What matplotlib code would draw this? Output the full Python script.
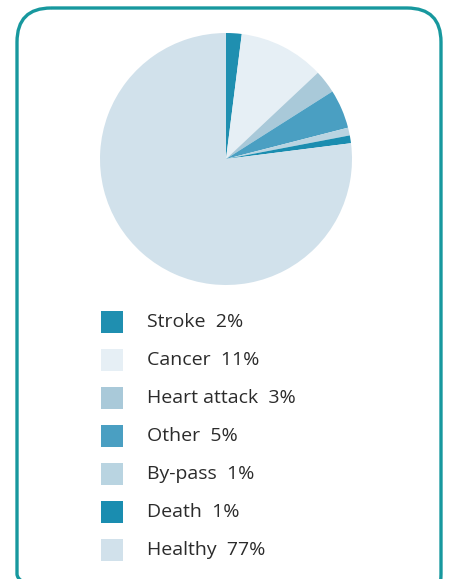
import matplotlib
matplotlib.use("Agg")
import matplotlib.pyplot as plt
from matplotlib.patches import FancyBboxPatch, Rectangle

categories = ["Stroke", "Cancer", "Heart attack", "Other", "By-pass", "Death", "Healthy"]
values = [2, 11, 3, 5, 1, 1, 77]
colors = ["#1f8fb0", "#e6eff5", "#a9c9d9", "#4a9fc2", "#b9d4e1", "#1a8db0", "#d1e1eb"]

W, H = 449, 579
fig = plt.figure(figsize=(W / 100, H / 100), dpi=100)

# background / frame axes in pixel coordinates
bg = fig.add_axes([0, 0, 1, 1])
bg.set_xlim(0, W)
bg.set_ylim(H, 0)
bg.axis("off")
frame = FancyBboxPatch((17, 8), 424, 600, boxstyle="round,pad=0,rounding_size=34",
                       fill=False, edgecolor="#17989e", linewidth=2.4)
bg.add_patch(frame)

# pie
cx, cy, r = 226, 159, 126
pax = fig.add_axes([(cx - r) / W, 1 - (cy + r) / H, 2 * r / W, 2 * r / H])
pax.pie(values, colors=colors, startangle=90, counterclock=False,
        wedgeprops=dict(linewidth=0))
pax.set_xlim(-1, 1)
pax.set_ylim(-1, 1)
pax.set_aspect("equal")
pax.axis("off")

# legend
y0, dy = 322, 38
for i, (name, v, c) in enumerate(zip(categories, values, colors)):
    y = y0 + i * dy
    bg.add_patch(Rectangle((101, y - 11), 22, 22, facecolor=c, edgecolor="none"))
    bg.text(147, y, f"{name}  {v}%", fontsize=14, color="#2b2b2b",
            va="center", ha="left", family="Open Sans")

fig.savefig("out.png", dpi=100)
